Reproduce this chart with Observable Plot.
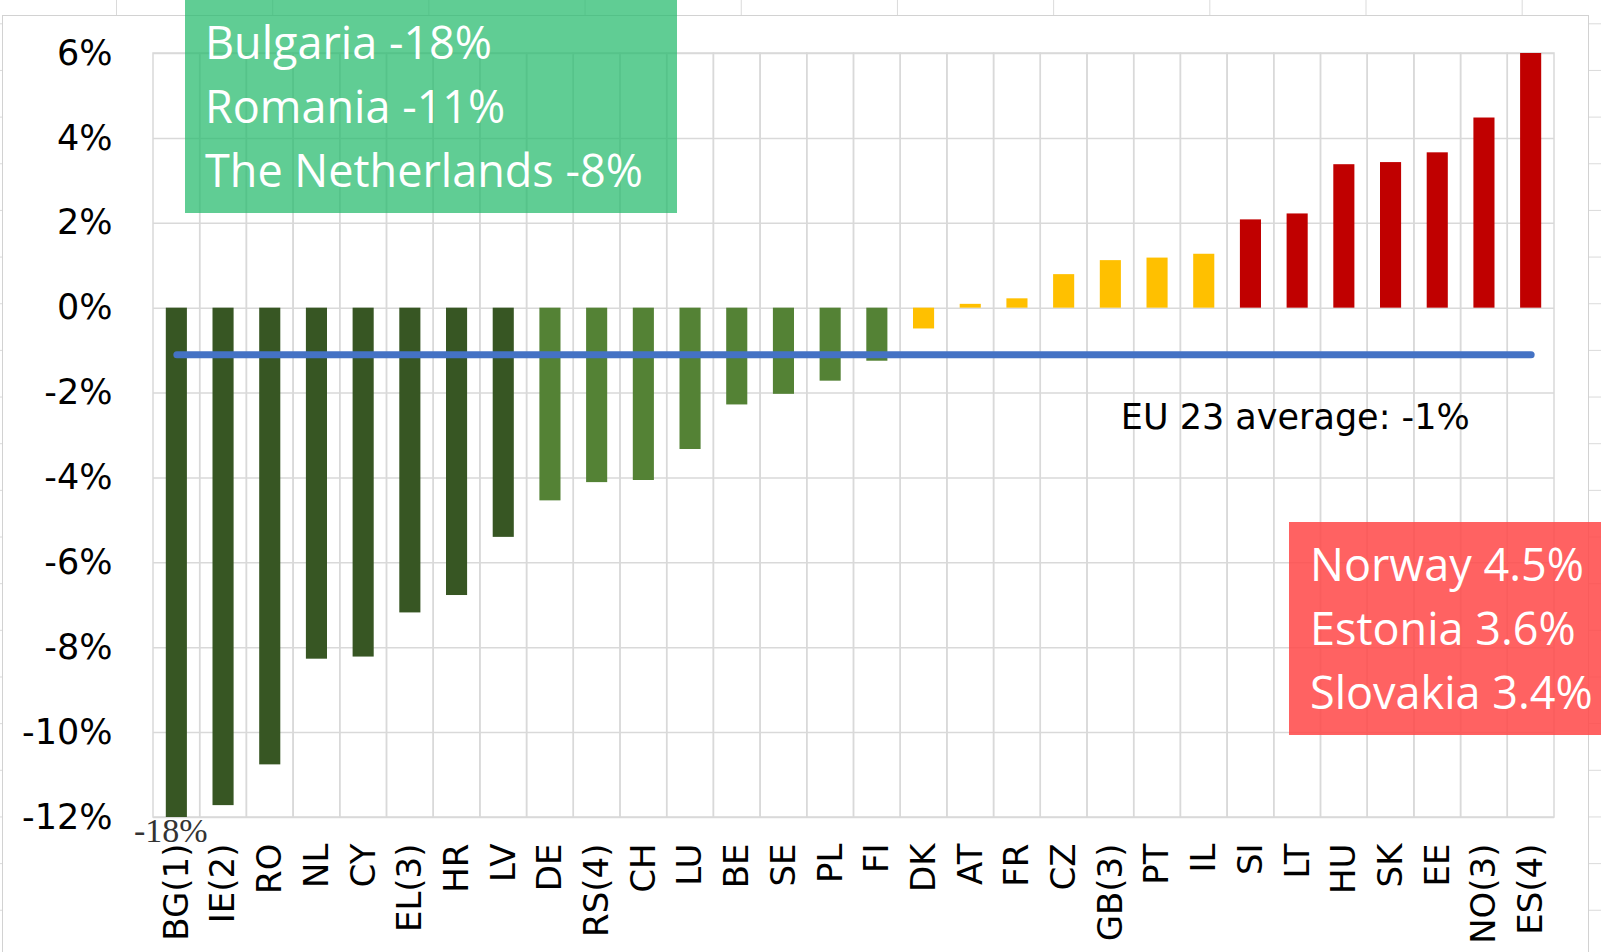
<!DOCTYPE html>
<html>
<head>
<meta charset="utf-8">
<script src="https://cdn.jsdelivr.net/npm/d3@7"></script>
<script src="https://cdn.jsdelivr.net/npm/@observablehq/plot@0.6"></script>
<style>
  html, body { margin: 0; padding: 0; }
  body {
    width: 1601px; height: 952px; overflow: hidden; position: relative;
    background-color: #fff;
    background-image:
      linear-gradient(to right, #dadada 1px, transparent 1px),
      linear-gradient(to bottom, #dadada 1px, transparent 1px);
    background-size: 156.2px 100%, 100% 46.67px;
    background-position: 116px 0, 0 23.3px;
  }
  #panel {
    position: absolute; left: 2px; top: 15px; width: 1587px; height: 960px;
    background: #fff; border: 1px solid #d2d2d2; box-sizing: border-box;
  }
  #chart { position: absolute; left: 0; top: 0; }
  .note {
    position: absolute; color: #fff; font-family: "Open Sans", sans-serif;
    font-size: 45px; line-height: 64px; box-sizing: border-box; white-space: nowrap;
    padding-top: 10px;
  }
  #green { left: 185px; top: 0; width: 492px; height: 213px; background: rgba(40, 188, 110, 0.74); padding-left: 20px; }
  #red { left: 1289px; top: 522px; width: 312px; height: 213px; background: rgba(255, 72, 72, 0.86); padding-left: 21px; }
</style>
</head>
<body>
<div id="panel"></div>
<div id="chart"></div>
<div id="green" class="note"></div>
<div id="red" class="note"></div>
<script>
const categories = ["BG(1)","IE(2)","RO","NL","CY","EL(3)","HR","LV","DE","RS(4)","CH","LU","BE","SE","PL","FI","DK","AT","FR","CZ","GB(3)","PT","IL","SI","LT","HU","SK","EE","NO(3)","ES(4)"];
const values = [-18, -11.72, -10.76, -8.27, -8.22, -7.18, -6.77, -5.40, -4.54, -4.11, -4.06, -3.33, -2.28, -2.03, -1.72, -1.25, -0.49, 0.09, 0.22, 0.79, 1.12, 1.18, 1.27, 2.08, 2.22, 3.38, 3.43, 3.66, 4.48, 6.0];
const groups = ["dark","dark","dark","dark","dark","dark","dark","dark",
                "green","green","green","green","green","green","green","green",
                "yellow","yellow","yellow","yellow","yellow","yellow","yellow",
                "red","red","red","red","red","red","red"];
const groupNames = ["dark","green","yellow","red"];
const groupColors = ["#375623","#548235","#FFC000","#C00000"];
const yTicks = [6,4,2,0,-2,-4,-6,-8,-10,-12];
const avgValue = -1.1;
const avgLabel = "EU 23 average: -1%";
const greenNotes = ["Bulgaria -18%","Romania -11%","The Netherlands -8%"];
const redNotes = ["Norway 4.5%","Estonia 3.6%","Slovakia 3.4%"];

const data = categories.map((c, i) => ({cat: c, value: values[i], group: groups[i]}));
const yMin = yTicks[yTicks.length - 1], yMax = yTicks[0];

const chart = Plot.plot({
  width: 1601, height: 952,
  marginTop: 53, marginBottom: 135, marginLeft: 153, marginRight: 47,
  style: {background: "transparent", overflow: "visible"},
  x: {domain: categories, padding: 0, round: false},
  y: {domain: [yMin, yMax], clamp: true},
  color: {domain: groupNames, range: groupColors},
  marks: [
    Plot.ruleY(yTicks, {stroke: "#d9d9d9", strokeWidth: 1.5}),
    Plot.barY(categories, {x: d => d, y1: yMin, y2: yMax, fill: "none", stroke: "#d9d9d9", strokeWidth: 1.5}),
    Plot.barY(data, {x: "cat", y: "value", fill: "group", insetLeft: 12.8, insetRight: 12.8}),
    Plot.line([categories[0], categories[categories.length - 1]], {x: d => d, y: () => avgValue, stroke: "#4472C4", strokeWidth: 7, strokeLinecap: "round"}),
    Plot.axisY({ticks: yTicks, tickFormat: d => d + "%", tickSize: 0, tickPadding: 41, fontSize: 35, fontFamily: "DejaVu Sans", fill: "#000", label: null}),
    Plot.axisX({tickRotate: -90, tickSize: 0, tickPadding: 26, fontSize: 34, fontFamily: "DejaVu Sans", fill: "#000", stroke: "#000", strokeWidth: 0.6, label: null}),
    Plot.text(data.filter(d => d.value < yMin), {x: "cat", y: "value", text: d => d.value + "%", dy: 14, dx: -6, fontSize: 34, fontFamily: "Liberation Serif", fill: "#333"}),
    Plot.text([avgLabel], {x: () => "GB(3)", y: () => avgValue, text: d => d, textAnchor: "start", dx: 10, dy: 63, fontSize: 35, fontFamily: "DejaVu Sans", fill: "#000"})
  ]
});
document.getElementById("chart").appendChild(chart);
document.getElementById("green").innerHTML = greenNotes.map(t => `<div>${t}</div>`).join("");
document.getElementById("red").innerHTML = redNotes.map(t => `<div>${t}</div>`).join("");
</script>
</body>
</html>
